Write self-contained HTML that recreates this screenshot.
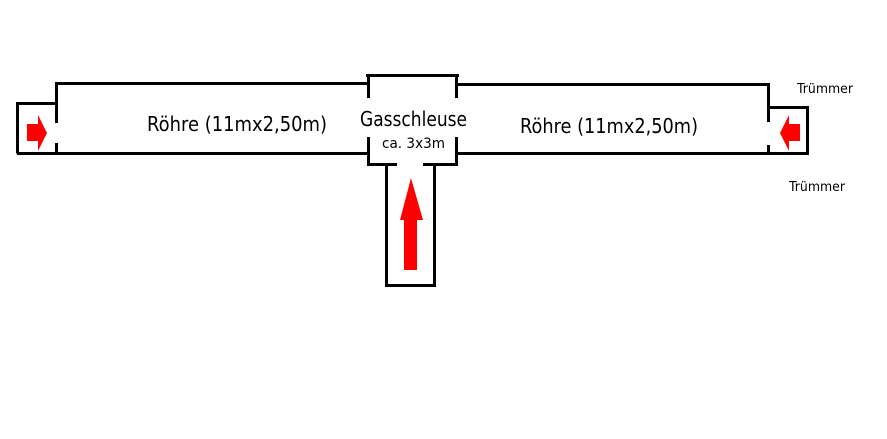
<!DOCTYPE html>
<html><head><meta charset="utf-8"><style>html,body{margin:0;padding:0;background:#fff;width:887px;height:439px;overflow:hidden}</style></head>
<body>
<svg width="887" height="439" xmlns="http://www.w3.org/2000/svg">
<g stroke="#000" stroke-width="3" fill="none">
<line x1="55" y1="83.5" x2="368" y2="83.5"/>
<line x1="17" y1="153.5" x2="368" y2="153.5"/>
<line x1="56.5" y1="82" x2="56.5" y2="123"/>
<line x1="56.5" y1="143" x2="56.5" y2="155"/>
<polyline points="56,103.5 17.5,103.5 17.5,153.5"/>
<line x1="366" y1="75.5" x2="459" y2="75.5"/>
<line x1="368.5" y1="74" x2="368.5" y2="98"/>
<line x1="368.5" y1="137" x2="368.5" y2="166"/>
<line x1="456.5" y1="74" x2="456.5" y2="98"/>
<line x1="456.5" y1="137" x2="456.5" y2="166"/>
<line x1="367" y1="164.5" x2="397" y2="164.5"/>
<line x1="423" y1="164.5" x2="458" y2="164.5"/>
<polyline points="386.5,164 386.5,285.5 434.5,285.5 434.5,164"/>
<line x1="456" y1="84.5" x2="769" y2="84.5"/>
<line x1="456" y1="153.5" x2="809" y2="153.5"/>
<line x1="768.5" y1="83" x2="768.5" y2="122"/>
<line x1="768.5" y1="145" x2="768.5" y2="155"/>
<polyline points="768,107.5 807.5,107.5 807.5,155"/>
</g>
<g fill="#f00">
<polygon points="27,124 38,124 38,115 47,133 38,151 38,141 27,141"/>
<polygon points="800,124 789,124 789,115 780,133 789,151 789,141 800,141"/>
<polygon points="404,270 417,270 417,220 423,220 411,178 400,220 404,220"/>
</g>
<g font-family="DejaVu Sans, Liberation Sans, sans-serif" fill="#000">
<text x="147" y="131" font-size="20.5" textLength="180" lengthAdjust="spacingAndGlyphs">Röhre (11mx2,50m)</text>
<text x="520" y="133" font-size="20.5" textLength="178" lengthAdjust="spacingAndGlyphs">Röhre (11mx2,50m)</text>
<text x="360" y="126" font-size="20.5" textLength="107" lengthAdjust="spacingAndGlyphs">Gasschleuse</text>
<text x="382" y="148" font-size="14" textLength="63" lengthAdjust="spacingAndGlyphs">ca. 3x3m</text>
<text x="797" y="93" font-size="13" textLength="56" lengthAdjust="spacingAndGlyphs">Trümmer</text>
<text x="789" y="191" font-size="13" textLength="56" lengthAdjust="spacingAndGlyphs">Trümmer</text>
</g>
</svg>
</body></html>
